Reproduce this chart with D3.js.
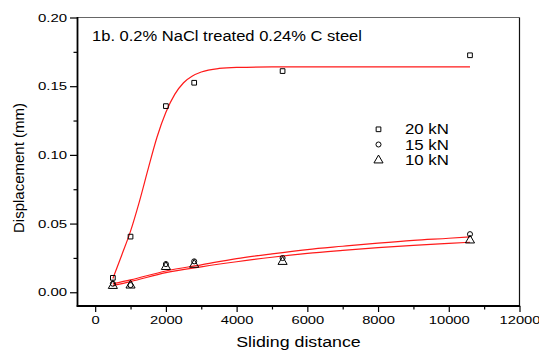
<!DOCTYPE html>
<html><head><meta charset="utf-8">
<script src="https://cdn.jsdelivr.net/npm/d3@7"></script>
<style>
body{margin:0;background:#fff;}
svg{display:block;font-family:"Liberation Sans",Arial,sans-serif;}
</style></head>
<body><svg id="c" width="539" height="350"></svg>
<script>
// measured points
const distance = [500, 1000, 2000, 2800, 5300, 10600];
const load20 = [0.0105, 0.0405, 0.1355, 0.1525, 0.161, 0.1725];
const load15 = [0.0062, 0.0052, 0.0205, 0.0225, 0.0249, 0.0423];
const load10 = [0.0047, 0.0050, 0.0185, 0.0201, 0.0222, 0.0378];
// fitted curves
const fit20x = [500, 750, 1000, 1250, 1500, 1750, 2000, 2250, 2500, 2750, 3000, 3500, 4000, 5000, 7000, 10600];
const fit20y = [0.0100, 0.0270, 0.0445, 0.0660, 0.0900, 0.1130, 0.1310, 0.1440, 0.1525, 0.1574, 0.1603, 0.1629, 0.1637, 0.1640, 0.1640, 0.1640];
const fit15x = [500, 1000, 2000, 3000, 4000, 5000, 6000, 7000, 8000, 9000, 10000, 10600];
const fit15y = [0.0062, 0.0090, 0.0155, 0.0200, 0.0245, 0.0280, 0.0311, 0.0335, 0.0358, 0.0378, 0.0393, 0.0403];
const fit10x = [500, 1000, 2000, 3000, 4000, 5000, 6000, 7000, 8000, 9000, 10000, 10600];
const fit10y = [0.0050, 0.0078, 0.0143, 0.0185, 0.0222, 0.0255, 0.0283, 0.0305, 0.0325, 0.0342, 0.0356, 0.0364];
const xMajor = [0, 2000, 4000, 6000, 8000, 10000, 12000];
const xMinor = [1000, 3000, 5000, 7000, 9000, 11000];
const yMajor = [0.00, 0.05, 0.10, 0.15, 0.20];
const yMinor = [0.025, 0.075, 0.125, 0.175];
const legendLabels = ["20 kN", "15 kN", "10 kN"];
const titleText = "1b. 0.2% NaCl treated 0.24% C steel";

const svg = d3.select("#c");
const L = 77.5, R = 519.5, T = 17.5, B = 306;
const x = d3.scaleLinear().domain([-500, 12000]).range([L, R]);
const y = d3.scaleLinear().domain([-0.01, 0.2]).range([B, T]);

function stretch(sel, k){
  sel.each(function(){
    const l = this.getComputedTextLength();
    this.setAttribute("textLength", l*k);
    this.setAttribute("lengthAdjust", "spacingAndGlyphs");
  });
}

// axes
const gx = svg.append("g").attr("transform", `translate(0,${B})`)
  .call(d3.axisBottom(x).tickValues(xMajor).tickSize(6).tickPadding(4).tickFormat(d3.format("d")));
const gxm = svg.append("g").attr("transform", `translate(0,${B})`)
  .call(d3.axisBottom(x).tickValues(xMinor).tickSize(3.5).tickFormat(""));
const gy = svg.append("g").attr("transform", `translate(${L},0)`)
  .call(d3.axisLeft(y).tickValues(yMajor).tickSize(7.5).tickPadding(3).tickFormat(d3.format(".2f")));
const gym = svg.append("g").attr("transform", `translate(${L},0)`)
  .call(d3.axisLeft(y).tickValues(yMinor).tickSize(4).tickFormat(""));
[gx, gxm, gy, gym].forEach(g => {
  g.select(".domain").remove();
  g.selectAll("line").attr("stroke", "#000").attr("stroke-width", 1.2);
  g.selectAll("text").attr("fill", "#000").attr("font-size", 11.5).attr("font-family", "Liberation Sans, Arial, sans-serif");
});
stretch(gx.selectAll("text"), 1.28);
stretch(gy.selectAll("text"), 1.3);

// frame
svg.append("line").attr("x1", L).attr("x2", R).attr("y1", T).attr("y2", T).attr("stroke", "#666").attr("stroke-width", 1.2);
svg.append("line").attr("x1", R).attr("x2", R).attr("y1", T).attr("y2", B).attr("stroke", "#111").attr("stroke-width", 1.2);
svg.append("line").attr("x1", L).attr("x2", L).attr("y1", T - 0.5).attr("y2", B + 0.8).attr("stroke", "#000").attr("stroke-width", 1.8);
svg.append("line").attr("x1", L - 0.8).attr("x2", R + 0.6).attr("y1", B).attr("y2", B).attr("stroke", "#000").attr("stroke-width", 1.8);

// fit lines
const line = d3.line().x(d => x(d[0])).y(d => y(d[1])).curve(d3.curveMonotoneX);
[[fit20x, fit20y], [fit15x, fit15y], [fit10x, fit10y]].forEach(([xs, ys]) => {
  svg.append("path").datum(xs.map((v, i) => [v, ys[i]]))
    .attr("d", line).attr("fill", "none").attr("stroke", "#ff1a1a").attr("stroke-width", 1.2);
});

// markers
const symSq = d3.symbol().type(d3.symbolSquare).size(22);
const symCi = d3.symbol().type(d3.symbolCircle).size(20);
const symTr = d3.symbol().type(d3.symbolTriangle).size(36);
function drawSeries(vals, sym){
  svg.append("g").selectAll("path").data(distance.map((d, i) => [d, vals[i]])).join("path")
    .attr("d", sym).attr("transform", d => `translate(${x(d[0])},${y(d[1])})`)
    .attr("fill", "none").attr("stroke", "#000").attr("stroke-width", 1);
}
drawSeries(load10, symTr);
drawSeries(load15, symCi);
drawSeries(load20, symSq);

// legend
const legY = [129.3, 144.5, 160.3];
const syms = [symSq, symCi, symTr];
legendLabels.forEach((lab, i) => {
  svg.append("path").attr("d", syms[i]).attr("transform", `translate(378.5,${legY[i]})`)
    .attr("fill", "none").attr("stroke", "#000").attr("stroke-width", 1);
  const t = svg.append("text").attr("x", 405).attr("y", legY[i] + 5).attr("font-size", 14).text(lab);
  stretch(t, 1.2);
});

// title
const tt = svg.append("text").attr("x", 92).attr("y", 40.5).attr("font-size", 14).text(titleText);
stretch(tt, 1.18);

// axis titles
const xt = svg.append("text").attr("x", 298.5).attr("y", 346.5).attr("text-anchor", "middle").attr("font-size", 14).text("Sliding distance");
stretch(xt, 1.27);
svg.append("text").attr("transform", "translate(24,168) rotate(-90)").attr("text-anchor", "middle")
  .attr("font-size", 15).text("Displacement (mm)");
</script></body></html>
